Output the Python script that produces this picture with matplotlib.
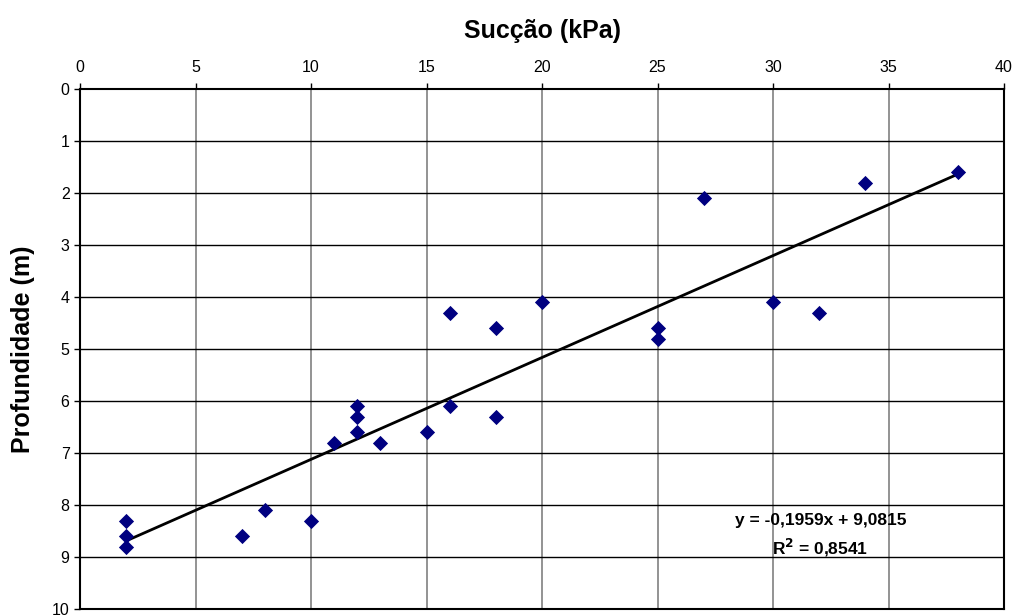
import numpy as np
import matplotlib as mpl
mpl.use('Agg')
import matplotlib.pyplot as plt

plt.rcParams['font.family'] = ['Liberation Sans', 'DejaVu Sans']

# Sucção (kPa) vs profundidade (m)
succao = [2, 2, 2, 7, 8, 10, 11, 12, 12, 12, 13, 15, 16, 16, 18, 18, 20, 25, 25, 27, 30, 32, 34, 38]
profundidade = [8.3, 8.6, 8.8, 8.6, 8.1, 8.3, 6.8, 6.1, 6.3, 6.6, 6.8, 6.6, 4.3, 6.1, 4.6, 6.3,
                4.1, 4.6, 4.8, 2.1, 4.1, 4.3, 1.8, 1.6]

# linear trend as reported in the chart
slope = -0.1959
intercept = 9.0815
r2 = 0.8541

fig = plt.figure(figsize=(10.16, 6.15), dpi=100)
ax = fig.add_axes([80 / 1016, 1 - 609 / 615, 924 / 1016, 520 / 615])

ax.set_xlim(0, 40)
ax.set_ylim(10, 0)
ax.set_xticks(np.arange(0, 41, 5))
ax.set_yticks(np.arange(0, 11, 1))

# gridlines: vertical gray, horizontal black
for xv in np.arange(5, 40, 5):
    ax.axvline(xv, color='#808080', lw=1.2, zorder=1)
for yv in np.arange(1, 10, 1):
    ax.axhline(yv, color='black', lw=1.0, zorder=1)

xfit = np.array([min(succao), max(succao)])
ax.plot(xfit, slope * xfit + intercept, color='black', lw=2, zorder=2)
ax.scatter(succao, profundidade, marker='D', s=60, color='#000080', zorder=3, linewidths=0)

ax.xaxis.tick_top()
ax.xaxis.set_label_position('top')
ax.tick_params(axis='both', direction='out', length=4, labelsize=11.5, width=1)
ax.tick_params(axis='x', pad=6)
ax.set_xlabel('Sucção (kPa)', fontsize=18, fontweight='bold', labelpad=16)
ax.set_ylabel('Profundidade (m)', fontsize=18, fontweight='bold', labelpad=12)
for s in ax.spines.values():
    s.set_linewidth(1.5)

eq_text = 'y = {0:.4f}x + {1:.4f}'.format(slope, intercept).replace('.', ',')
r2_text = r'R$^\mathbf{2}$ = ' + '{0:.4f}'.format(r2).replace('.', ',')
ax.text(32.05, 8.3, eq_text, ha='center', va='center',
        fontsize=12.5, fontweight='bold', zorder=4)
ax.text(32.05, 8.82, r2_text, ha='center', va='center',
        fontsize=12.5, fontweight='bold', zorder=4)

plt.savefig('out.png', dpi=100)
